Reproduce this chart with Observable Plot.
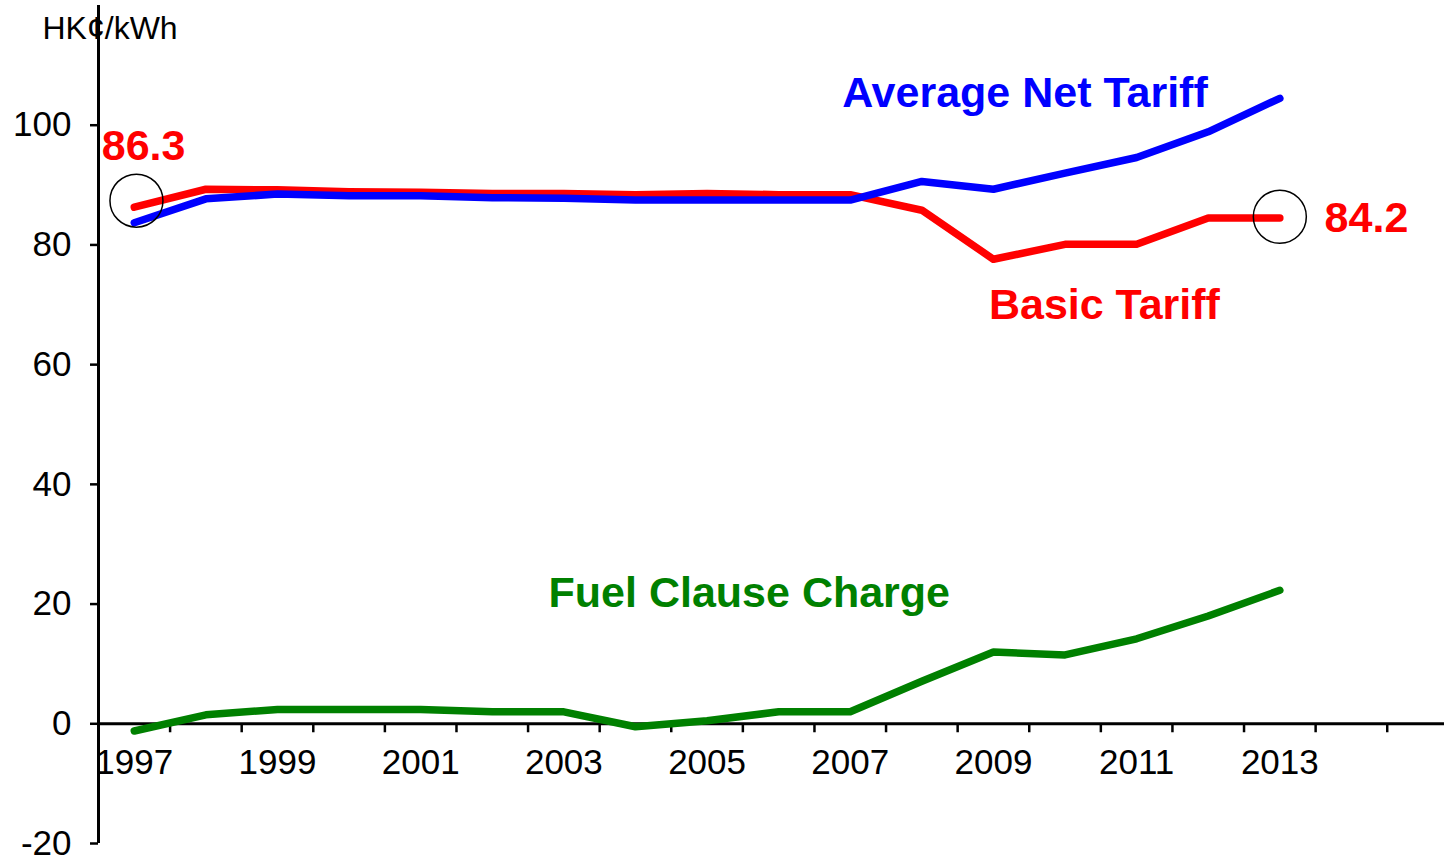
<!DOCTYPE html>
<html>
<head>
<meta charset="utf-8">
<script src="https://cdn.jsdelivr.net/npm/d3@7"></script>
<script src="https://cdn.jsdelivr.net/npm/@observablehq/plot@0.6"></script>
<style>
  html, body { margin: 0; padding: 0; background: #fff; overflow: hidden; }
  #chart svg { font-family: "Liberation Sans", Arial, sans-serif; color: #000; }
</style>
</head>
<body>
<div id="chart"></div>
<script>
// Categories (years)
const years = [1997, 1998, 1999, 2000, 2001, 2002, 2003, 2004, 2005, 2006, 2007, 2008, 2009, 2010, 2011, 2012, 2013];
// Series values (HK¢/kWh)
const basicTariff = [86.3, 89.3, 89.2, 88.9, 88.8, 88.6, 88.6, 88.4, 88.6, 88.4, 88.4, 85.8, 77.6, 80.1, 80.1, 84.5, 84.5];
const averageNetTariff = [83.7, 87.7, 88.5, 88.2, 88.2, 87.9, 87.8, 87.5, 87.5, 87.5, 87.5, 90.6, 89.3, 92.0, 94.6, 98.9, 104.5];
const fuelClauseCharge = [-1.2, 1.5, 2.4, 2.4, 2.4, 2.0, 2.0, -0.5, 0.5, 2.0, 2.0, 7.1, 12.0, 11.5, 14.2, 18.0, 22.3];
// Tick labels
const yTicks = [-20, 0, 20, 40, 60, 80, 100];
const xLabelYears = [1997, 1999, 2001, 2003, 2005, 2007, 2009, 2011, 2013];
const xTickBoundaries = [1997.5, 1998.5, 1999.5, 2000.5, 2001.5, 2002.5, 2003.5, 2004.5, 2005.5, 2006.5, 2007.5, 2008.5, 2009.5, 2010.5, 2011.5, 2012.5, 2013.5, 2014.5];
// Annotations
const seriesNames = ["Average Net Tariff", "Basic Tariff", "Fuel Clause Charge"];
const seriesColors = ["#0000FF", "#FF0000", "#008000"];
const seriesLabelX = [2009.44, 2010.55, 2005.59];
const seriesLabelY = [105.3, 69.9, 21.8];
const valueLabels = ["86.3", "84.2"];
const valueLabelX = [1997.13, 2014.21];
const valueLabelY = [96.5, 84.5];
const circleX = [1997.03, 2013];
const circleY = [87.4, 84.7];
const unitLabel = "HK¢/kWh";

const rows = (vals, name) => years.map((y, i) => ({year: y, value: vals[i], series: name}));
const basicRows = rows(basicTariff, "Basic Tariff");
const avgRows = rows(averageNetTariff, "Average Net Tariff");
const fuelRows = rows(fuelClauseCharge, "Fuel Clause Charge");
const seriesLabels = seriesNames.map((n, i) => ({text: n, x: seriesLabelX[i], y: seriesLabelY[i], color: seriesColors[i]}));
const valueLabelRows = valueLabels.map((t, i) => ({text: t, x: valueLabelX[i], y: valueLabelY[i]}));
const circles = circleX.map((x, i) => ({x, y: circleY[i]}));

const chart = Plot.plot({
  width: 1444,
  height: 864,
  marginLeft: 98,
  marginRight: 0,
  marginTop: 5,
  marginBottom: 21,
  x: {domain: [1996.5, 2015.3], axis: null},
  y: {domain: [-20, 120], axis: null},
  marks: [
    Plot.axisY(yTicks, {tickSize: 8, tickPadding: 19, fontSize: 35, strokeWidth: 2.5, label: null, tickFormat: d => String(d)}),
    Plot.ruleX([1996.5], {y1: -20, y2: 120, strokeWidth: 3, stroke: "#000"}),
    Plot.ruleY([0], {strokeWidth: 3, stroke: "#000"}),
    Plot.ruleX(xTickBoundaries, {x: d => d, y1: 0, y2: -1.5, strokeWidth: 2.5, stroke: "#000"}),
    Plot.text(xLabelYears, {x: d => d, y: 0, dy: 39, text: d => String(d), fontSize: 35, fill: "#000"}),
    Plot.line(fuelRows, {x: "year", y: "value", stroke: "#008000", strokeWidth: 7.5, strokeLinecap: "round"}),
    Plot.line(basicRows, {x: "year", y: "value", stroke: "#FF0000", strokeWidth: 7.5, strokeLinecap: "round"}),
    Plot.line(avgRows, {x: "year", y: "value", stroke: "#0000FF", strokeWidth: 7.5, strokeLinecap: "round"}),
    Plot.dot(circles, {x: "x", y: "y", r: 26.5, stroke: "#000", strokeWidth: 1.5, fill: "none"}),
    Plot.text(seriesLabels, {x: "x", y: "y", text: "text", fill: d => d.color, fontSize: 43, fontWeight: "bold"}),
    Plot.text(valueLabelRows, {x: "x", y: "y", text: "text", fill: "#FF0000", fontSize: 43, fontWeight: "bold"}),
    Plot.text([unitLabel], {frameAnchor: "top-left", lineAnchor: "middle", dx: -56, dy: 23, text: d => d, textAnchor: "start", fontSize: 32, fill: "#000"})
  ]
});
document.getElementById("chart").appendChild(chart);
</script>
</body>
</html>
